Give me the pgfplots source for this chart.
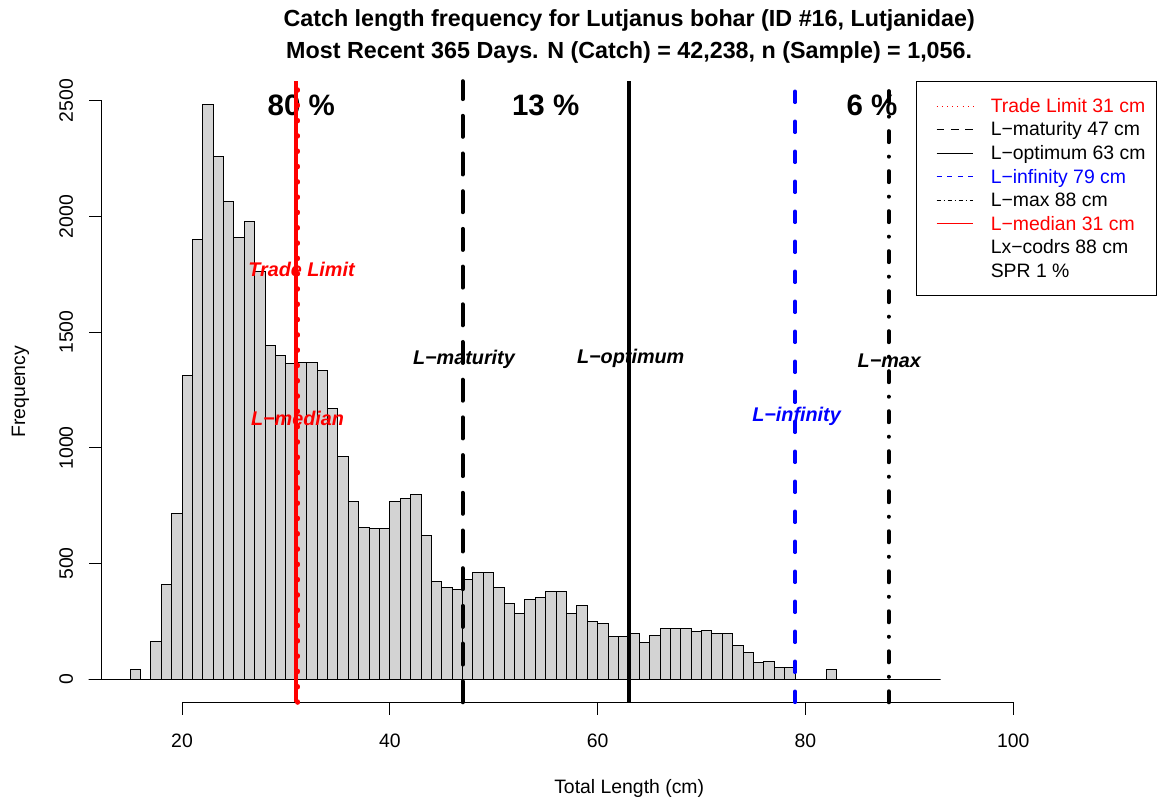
\documentclass[border=0pt]{standalone}
\usepackage{fontspec}
\setmainfont{Liberation Sans}
\usepackage{pgfplots}
\pgfplotsset{compat=1.18}
\definecolor{histgray}{HTML}{D3D3D3}
\definecolor{rred}{HTML}{FF0000}
\definecolor{rblue}{HTML}{0000FF}
\newcommand{\basefont}{\fontsize{19.4}{23.3}\selectfont}
\newcommand{\labfont}{\fontsize{19.8}{23.8}\selectfont\bfseries\itshape}
\newcommand{\pctfont}{\fontsize{29.5}{35}\selectfont\bfseries}
\begin{document}
\begin{tikzpicture}
\begin{axis}[
  at={(101.7pt,100.7pt)}, anchor=south west,
  scale only axis, width=1055pt, height=621.1pt,
  xmin=12.27, xmax=113.8, ymin=-99.4, ymax=2584.4,
  clip=false,
  axis lines=left,
  axis line style={draw=none,-},
  xtick={20,40,60,80,100},
  xticklabels={20,40,60,80,100},
  ytick={0,500,1000,1500,2000,2500},
  yticklabels={0,500,1000,1500,2000,2500},
  tick align=outside,
  major tick length=12.4pt,
  tick style={black, line width=1pt},
  tick label style={font=\basefont, inner sep=0pt},
  xticklabel style={anchor=north},
  yticklabel style={rotate=90, anchor=south},
  xticklabel shift=19.3pt,
  yticklabel shift=16pt,
  xlabel={Total Length (cm)},
  ylabel={Frequency},
  label style={font=\basefont, inner sep=0pt},
  xlabel style={at={(axis description cs:0.5,-0.1476)}, anchor=base},
  ylabel style={at={(axis description cs:-0.0727,0.5)}, anchor=base},
  title={Catch length frequency for Lutjanus bohar (ID \#16, Lutjanidae)},
  title style={at={(axis description cs:0.5,1.0787)}, anchor=base, font=\fontsize{23.3}{28}\selectfont\bfseries, inner sep=0pt},
  legend style={at={(1,1)}, anchor=north east, draw=black, line width=1pt, fill=white,
    font=\basefont, inner xsep=10.7pt, inner ysep=12.5pt, row sep=0pt,
    cells={anchor=west}, nodes={inner sep=0pt, minimum height=23.6pt},
    /tikz/every odd column/.append style={column sep=17pt}},
  legend cell align=left,
]
% histogram
\addplot[ybar interval, fill=histgray, draw=black, line width=1pt, forget plot] coordinates {
(11,0)(12,0)(13,0)(14,0)(15,43)(16,0)(17,162)(18,410)(19,718)(20,1314)
(21,1899)(22,2485)(23,2257)(24,2066)(25,1911)(26,1977)(27,1760)(28,1444)(29,1401)(30,1364)
(31,1371)(32,1371)(33,1335)(34,1169)(35,964)(36,768)(37,657)(38,650)(39,650)(40,767)
(41,780)(42,797)(43,621)(44,424)(45,395)(46,386)(47,433)(48,460)(49,460)(50,396)
(51,329)(52,285)(53,343)(54,352)(55,381)(56,381)(57,285)(58,321)(59,248)(60,241)
(61,183)(62,183)(63,196)(64,161)(65,190)(66,219)(67,219)(68,219)(69,205)(70,210)
(71,196)(72,196)(73,146)(74,115)(75,71)(76,79)(77,49)(78,49)(79,0)(80,0)
(81,0)(82,42)(83,0)(84,0)(85,0)(86,0)(87,0)(88,0)(89,0)(90,0)(91,0)(92,0)(93,0)};
% axis lines (R style)
\addplot[black, line width=1pt, forget plot] coordinates {(20,-99.4)(100,-99.4)};
\addplot[black, line width=1pt, forget plot] coordinates {(12.27,0)(12.27,2500)};
% text labels
\node[font=\labfont, text=rred, inner sep=0pt] at (axis cs:31.5,1773) {Trade Limit};
\node[font=\labfont, text=rred, inner sep=0pt] at (axis cs:31.12,1129) {L−median};
\node[font=\labfont, inner sep=0pt] at (axis cs:47.13,1383) {L−maturity};
\node[font=\labfont, inner sep=0pt] at (axis cs:63.18,1388) {L−optimum};
\node[font=\labfont, text=rblue, inner sep=0pt] at (axis cs:79.14,1138) {L−infinity};
\node[font=\labfont, inner sep=0pt] at (axis cs:88.07,1376) {L−max};
\node[font=\pctfont, inner sep=0pt] at (axis cs:31.48,2481) {80 \%};
\node[font=\pctfont, inner sep=0pt] at (axis cs:55.0,2481) {13 \%};
\node[font=\pctfont, inner sep=0pt] at (axis cs:86.4,2481) {6 \%};
% vertical reference lines
\addplot[rred, line width=4pt, forget plot] coordinates {(31,-99.4)(31,2584.4)};
\addplot[rred, line width=5pt, line cap=round, dash pattern=on 0.5pt off 14.8pt, forget plot] coordinates {(31.15,-99.4)(31.15,2584.4)};
\addplot[black, line width=4pt, line cap=round, dash pattern=on 21pt off 16.7pt, forget plot] coordinates {(47,-99.4)(47,2584.4)};
\addplot[black, line width=4pt, forget plot] coordinates {(63,-99.4)(63,2584.4)};
\addplot[rblue, line width=3.5pt, line cap=round, dash pattern=on 11pt off 19pt, forget plot] coordinates {(79,-99.4)(79,2584.4)};
\addplot[black, line width=4pt, line cap=round, dash pattern=on 11pt off 14.5pt on 0.01pt off 14.5pt, forget plot] coordinates {(88,-99.4)(88,2584.4)};
% legend
\addlegendimage{legend image code/.code={\path (0pt,0pt); \draw[draw=rred, line width=0.9pt, dash pattern=on 1pt off 4.2pt] (9pt,0pt) -- (45.6pt,0pt);}}
\addlegendentry{\textcolor{rred}{Trade Limit 31 cm}}
\addlegendimage{legend image code/.code={\path (0pt,0pt); \draw[draw=black, line width=1pt, dash pattern=on 7.8pt off 6.6pt] (9pt,0pt) -- (45.6pt,0pt);}}
\addlegendentry{L−maturity 47 cm}
\addlegendimage{legend image code/.code={\path (0pt,0pt); \draw[draw=black, line width=1pt] (9pt,0pt) -- (45.6pt,0pt);}}
\addlegendentry{L−optimum 63 cm}
\addlegendimage{legend image code/.code={\path (0pt,0pt); \draw[draw=rblue, line width=1pt, dash pattern=on 5pt off 5.5pt] (9pt,0pt) -- (45.6pt,0pt);}}
\addlegendentry{\textcolor{rblue}{L−infinity 79 cm}}
\addlegendimage{legend image code/.code={\path (0pt,0pt); \draw[draw=black, line width=1pt, dash pattern=on 4pt off 3pt on 1pt off 3pt] (9pt,0pt) -- (45.6pt,0pt);}}
\addlegendentry{L−max 88 cm}
\addlegendimage{legend image code/.code={\path (0pt,0pt); \draw[draw=rred, line width=1pt] (9pt,0pt) -- (45.6pt,0pt);}}
\addlegendentry{\textcolor{rred}{L−median 31 cm}}
\addlegendimage{empty legend}
\addlegendentry{Lx−codrs 88 cm}
\addlegendimage{empty legend}
\addlegendentry{SPR 1 \%}
\node[anchor=base, font=\fontsize{23.3}{28}\selectfont\bfseries, inner sep=0pt] at (axis description cs:0.5,1.0369) {Most Recent 365 Days. N (Catch) = 42,238, n (Sample) = 1,056.};
\end{axis}
\pgfresetboundingbox
\path (0pt,0pt) rectangle (1161pt,803pt);
\end{tikzpicture}
\end{document}
